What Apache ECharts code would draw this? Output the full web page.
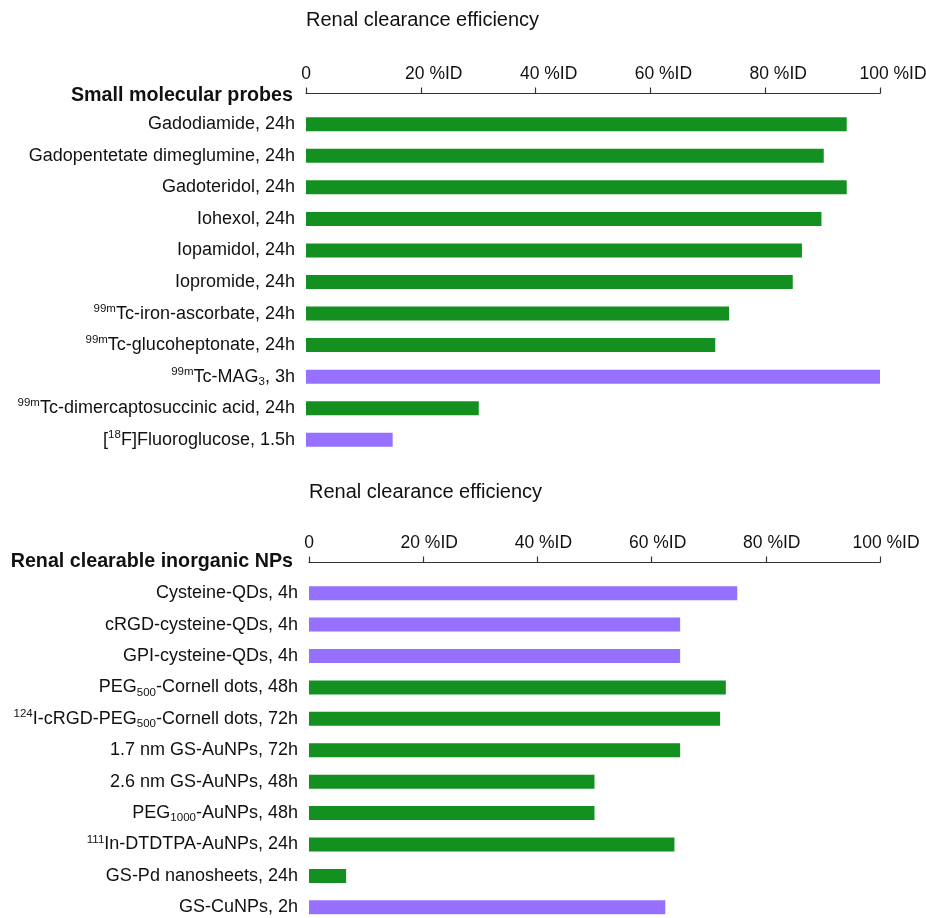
<!DOCTYPE html>
<html>
<head>
<meta charset="utf-8">
<script src="https://cdn.jsdelivr.net/npm/echarts@6/dist/echarts.min.js"></script>
<style>
  html, body { margin: 0; padding: 0; background: #fff; }
  #chart { width: 926px; height: 918px; }
</style>
</head>
<body>
<div id="chart"></div>
<script>
// Small molecular probes: label (rich-text markup for super/subscripts), clearance (%ID), time point (h)
const probeNames = [
  'Gadodiamide, 24h',
  'Gadopentetate dimeglumine, 24h',
  'Gadoteridol, 24h',
  'Iohexol, 24h',
  'Iopamidol, 24h',
  'Iopromide, 24h',
  '{sup|99m}Tc-iron-ascorbate, 24h',
  '{sup|99m}Tc-glucoheptonate, 24h',
  '{sup|99m}Tc-MAG{sub|3}, 3h',
  '{sup|99m}Tc-dimercaptosuccinic acid, 24h',
  '[{sup|18}F]Fluoroglucose, 1.5h'
];
const probeValues = [94.2, 90.2, 94.2, 89.8, 86.4, 84.8, 73.7, 71.3, 100, 30.1, 15.1];
const probeHours = [24, 24, 24, 24, 24, 24, 24, 24, 3, 24, 1.5];

// Renal clearable inorganic nanoparticles
const npNames = [
  'Cysteine-QDs, 4h',
  'cRGD-cysteine-QDs, 4h',
  'GPI-cysteine-QDs, 4h',
  'PEG{sub|500}-Cornell dots, 48h',
  '{sup|124}I-cRGD-PEG{sub|500}-Cornell dots, 72h',
  '1.7 nm GS-AuNPs, 72h',
  '2.6 nm GS-AuNPs, 48h',
  'PEG{sub|1000}-AuNPs, 48h',
  '{sup|111}In-DTDTPA-AuNPs, 24h',
  'GS-Pd nanosheets, 24h',
  'GS-CuNPs, 2h'
];
const npValues = [75.0, 65.0, 65.0, 73.0, 72.0, 65.0, 50.0, 50.0, 64.0, 6.5, 62.4];
const npHours = [4, 4, 4, 48, 72, 72, 48, 48, 24, 24, 2];

const tickValues = [0, 20, 40, 60, 80, 100];
const axisTitle = 'Renal clearance efficiency';
const groupTitles = ['Small molecular probes', 'Renal clearable inorganic NPs'];

const GREEN = '#13901f';
const PURPLE = '#9670ff';
const INK = '#111';
const FONT = 'Liberation Sans, Arial, Helvetica, sans-serif';

// bars drawn before 24 h are purple, later time points green
function colored(values, hours) {
  return values.map((v, i) => ({
    value: v,
    itemStyle: { color: hours[i] < 24 ? PURPLE : GREEN }
  }));
}

const richLabel = {
  sup: { fontSize: 11.5, lineHeight: 14, verticalAlign: 'top', color: INK, fontFamily: FONT },
  sub: { fontSize: 11.5, lineHeight: 11, verticalAlign: 'bottom', color: INK, fontFamily: FONT }
};

// value axis drawn above each panel; percentage labels sit a little right of their ticks
function xAxisFor(gridIndex, labelShift) {
  return {
    gridIndex,
    type: 'value',
    position: 'top',
    offset: 15,
    min: 0,
    max: 100,
    interval: 20,
    axisLine: { show: true, lineStyle: { color: '#333', width: 1.2 } },
    axisTick: { show: true, length: 6, lineStyle: { color: '#333', width: 1.2 } },
    splitLine: { show: false },
    axisLabel: {
      margin: 10,
      fontSize: 17.5,
      fontFamily: FONT,
      color: INK,
      formatter: v => (tickValues.includes(v) ? (v === 0 ? '0' : '{p|' + v + ' %ID}') : ''),
      rich: {
        p: { fontSize: 17.5, fontFamily: FONT, color: INK, padding: [0, 0, 0, labelShift * 2] }
      }
    }
  };
}

function yAxisFor(gridIndex, names) {
  return {
    gridIndex,
    type: 'category',
    inverse: true,
    data: names,
    axisLine: { show: false },
    axisTick: { show: false },
    axisLabel: {
      margin: 11,
      fontSize: 18,
      lineHeight: 22,
      fontFamily: FONT,
      color: INK,
      rich: richLabel
    }
  };
}

const chart = echarts.init(document.getElementById('chart'), null, { renderer: 'canvas' });

chart.setOption({
  animation: false,
  backgroundColor: '#fff',
  title: [
    { text: axisTitle, left: 306, top: 10, padding: 0, textStyle: { fontSize: 20, fontWeight: 'normal', color: INK, fontFamily: FONT } },
    { text: axisTitle, left: 309, top: 482, padding: 0, textStyle: { fontSize: 20, fontWeight: 'normal', color: INK, fontFamily: FONT } }
  ],
  graphic: [
    { type: 'text', right: 633, top: 86, style: { text: groupTitles[0], font: 'bold 19.7px ' + FONT, fill: INK } },
    { type: 'text', right: 633, top: 552, style: { text: groupTitles[1], font: 'bold 19.7px ' + FONT, fill: INK } }
  ],
  grid: [
    { left: 306, right: 46, top: 108.5, height: 347, containLabel: false, outerBoundsMode: 'none' },
    { left: 309, right: 46, top: 577.5, height: 345.5, containLabel: false, outerBoundsMode: 'none' }
  ],
  xAxis: [xAxisFor(0, 13), xAxisFor(1, 6)],
  yAxis: [yAxisFor(0, probeNames), yAxisFor(1, npNames)],
  series: [
    {
      type: 'bar', xAxisIndex: 0, yAxisIndex: 0, barWidth: 14,
      data: colored(probeValues, probeHours)
    },
    {
      type: 'bar', xAxisIndex: 1, yAxisIndex: 1, barWidth: 14,
      data: colored(npValues, npHours)
    }
  ]
});
</script>
</body>
</html>
